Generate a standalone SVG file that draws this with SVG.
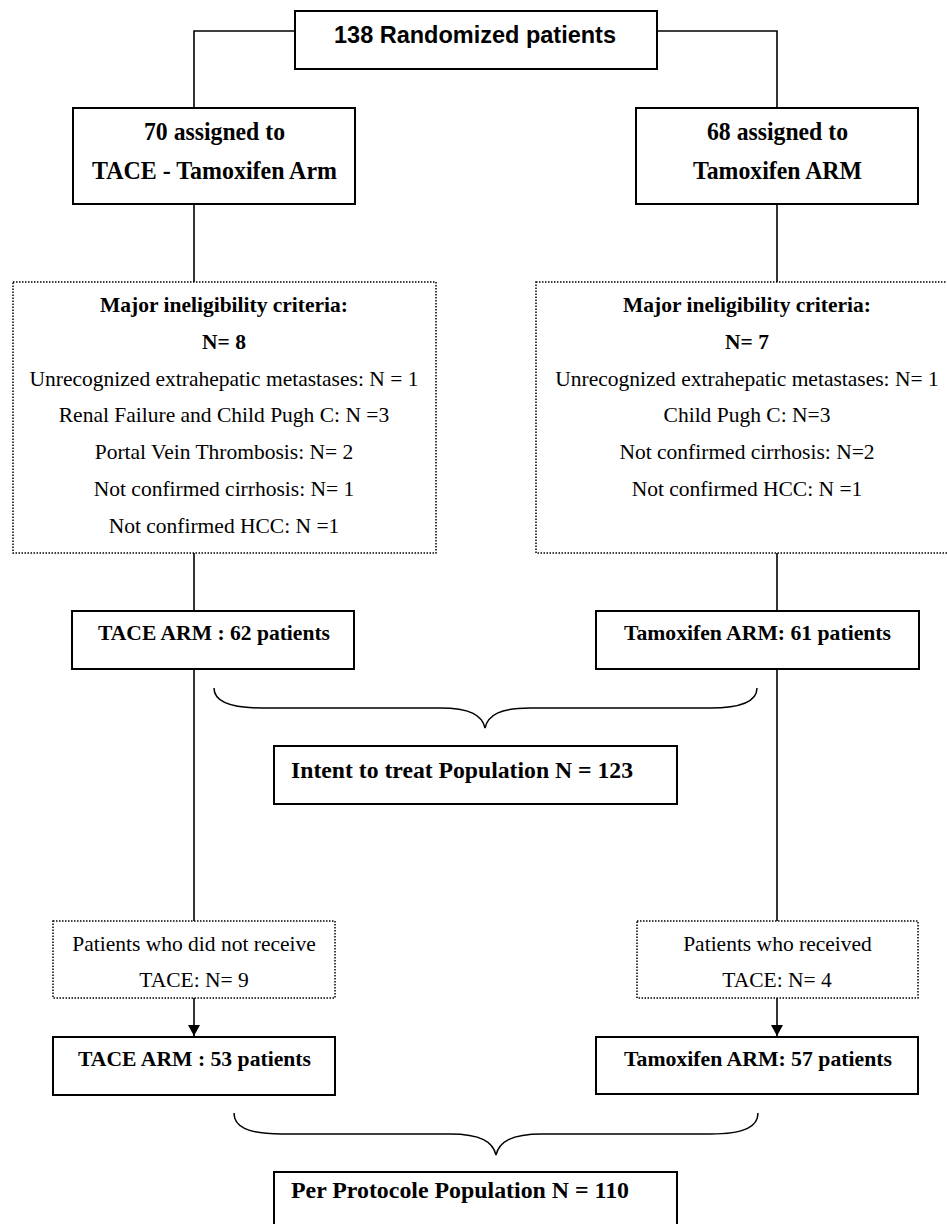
<svg xmlns="http://www.w3.org/2000/svg" width="947" height="1224" viewBox="0 0 947 1224">
<style>
.box{fill:#fff;stroke:#000;stroke-width:2}
.dot{fill:#fff;stroke:#000;stroke-width:1.5;stroke-dasharray:1.5 1.5}
.ln{fill:none;stroke:#000;stroke-width:1.6}
.br{fill:none;stroke:#000;stroke-width:1.5}
.sb{font-family:"Liberation Sans",Arial,sans-serif;font-weight:bold;fill:#000}
.tb{font-family:"Liberation Serif","Times New Roman",serif;font-weight:bold;fill:#000}
.tr{font-family:"Liberation Serif","Times New Roman",serif;font-size:21.5px;fill:#000}
.c{text-anchor:middle}
</style>
<defs>
<marker id="arr" markerUnits="userSpaceOnUse" markerWidth="12" markerHeight="12" refX="11" refY="6" orient="auto">
<path d="M0,0 L11,6 L0,12 z" fill="#000"/>
</marker>
</defs>
<rect x="0" y="0" width="947" height="1224" fill="#fff"/>
<g id="connectors">
<path class="ln" d="M194,108 V31 H295"/>
<path class="ln" d="M657,31 H777 V108"/>
<path class="ln" d="M194,204 V282"/>
<path class="ln" d="M777,204 V282"/>
<path class="ln" d="M194,553 V611"/>
<path class="ln" d="M777,553 V611"/>
<path class="ln" d="M194,669 V921"/>
<path class="ln" d="M777,669 V921"/>
<path class="ln" d="M194,998 V1036" marker-end="url(#arr)"/>
<path class="ln" d="M777,998 V1036" marker-end="url(#arr)"/>
<path class="br" d="M214,688 C214,700 226,708 262,708 L440,708 C470,708 482,715 485,728 C488,715 500,708 530,708 L710,708 C745,708 757,700 757,688"/>
<path class="br" d="M234,1113 C234,1126 246,1134 282,1134 L450,1134 C481,1134 493,1142 496,1155 C499,1142 511,1134 542,1134 L710,1134 C746,1134 758,1126 758,1113"/>
</g>
<g id="randomized">
<rect class="box" x="295" y="11" width="362" height="58"/>
<text class="sb c" x="475" y="42.5" font-size="23.5" textLength="282" lengthAdjust="spacingAndGlyphs">138 Randomized patients</text>
</g>
<g id="arm-tace">
<rect class="box" x="73" y="108" width="282" height="96"/>
<text class="tb c" x="214.5" y="140" font-size="25" textLength="141" lengthAdjust="spacingAndGlyphs">70 assigned to</text>
<text class="tb c" x="214.5" y="179" font-size="25" textLength="245" lengthAdjust="spacingAndGlyphs">TACE - Tamoxifen Arm</text>
</g>
<g id="arm-tam">
<rect class="box" x="636" y="108" width="282" height="96"/>
<text class="tb c" x="777.5" y="140" font-size="25" textLength="141" lengthAdjust="spacingAndGlyphs">68 assigned to</text>
<text class="tb c" x="777.5" y="179" font-size="25" textLength="169" lengthAdjust="spacingAndGlyphs">Tamoxifen ARM</text>
</g>
<g id="inelig-tace">
<rect class="dot" x="13" y="282" width="423" height="271"/>
<text class="tb c" x="224" y="312" font-size="21.5">Major ineligibility criteria:</text>
<text class="tb c" x="224" y="348.5" font-size="21.5">N= 8</text>
<text class="tr c" x="224" y="385.5">Unrecognized extrahepatic metastases: N = 1</text>
<text class="tr c" x="224" y="422">Renal Failure and Child Pugh C: N =3</text>
<text class="tr c" x="224" y="459">Portal Vein Thrombosis: N= 2</text>
<text class="tr c" x="224" y="496">Not confirmed cirrhosis: N= 1</text>
<text class="tr c" x="224" y="533">Not confirmed HCC: N =1</text>
</g>
<g id="inelig-tam">
<rect class="dot" x="536" y="282" width="424" height="271"/>
<text class="tb c" x="747" y="312" font-size="21.5">Major ineligibility criteria:</text>
<text class="tb c" x="747" y="348.5" font-size="21.5">N= 7</text>
<text class="tr c" x="747" y="385.5">Unrecognized extrahepatic metastases: N= 1</text>
<text class="tr c" x="747" y="422">Child Pugh C: N=3</text>
<text class="tr c" x="747" y="459">Not confirmed cirrhosis: N=2</text>
<text class="tr c" x="747" y="496">Not confirmed HCC: N =1</text>
</g>
<g id="tace-62">
<rect class="box" x="72" y="611" width="282" height="58"/>
<text class="tb c" x="214" y="640" font-size="21.5" textLength="232" lengthAdjust="spacingAndGlyphs">TACE ARM : 62 patients</text>
</g>
<g id="tam-61">
<rect class="box" x="596" y="611" width="323" height="58"/>
<text class="tb c" x="757.5" y="640" font-size="21.5" textLength="267" lengthAdjust="spacingAndGlyphs">Tamoxifen ARM: 61 patients</text>
</g>
<g id="itt">
<rect class="box" x="274" y="746" width="403" height="58"/>
<text class="tb" x="291" y="778" font-size="22.5" textLength="342" lengthAdjust="spacingAndGlyphs">Intent to treat Population N = 123</text>
</g>
<g id="no-tace">
<rect class="dot" x="53" y="921" width="282" height="77"/>
<text class="tr c" x="194" y="951">Patients who did not receive</text>
<text class="tr c" x="194" y="987">TACE: N= 9</text>
</g>
<g id="got-tace">
<rect class="dot" x="637" y="921" width="281" height="77"/>
<text class="tr c" x="777.5" y="951">Patients who received</text>
<text class="tr c" x="777" y="987">TACE: N= 4</text>
</g>
<g id="tace-53">
<rect class="box" x="53" y="1037" width="282" height="58"/>
<text class="tb c" x="194.5" y="1066" font-size="21.5" textLength="233" lengthAdjust="spacingAndGlyphs">TACE ARM : 53 patients</text>
</g>
<g id="tam-57">
<rect class="box" x="596" y="1037" width="322" height="57"/>
<text class="tb c" x="758" y="1066" font-size="21.5" textLength="268" lengthAdjust="spacingAndGlyphs">Tamoxifen ARM: 57 patients</text>
</g>
<g id="pp">
<rect class="box" x="274" y="1172" width="403" height="62"/>
<text class="tb" x="291" y="1198" font-size="22.5" textLength="338" lengthAdjust="spacingAndGlyphs">Per Protocole Population N = 110</text>
</g>
</svg>
